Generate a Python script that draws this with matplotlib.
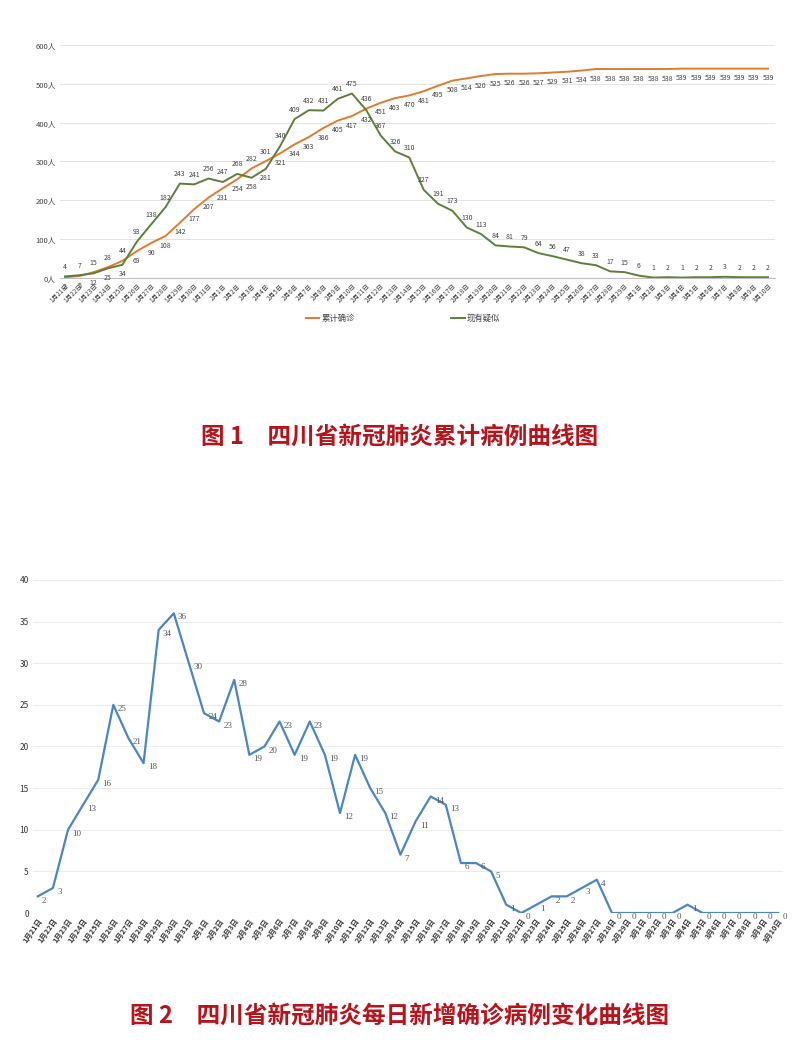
import matplotlib
matplotlib.use("Agg")
import matplotlib.pyplot as plt
import numpy as np

plt.rcParams['font.family'] = ['Noto Sans CJK SC', 'DejaVu Sans']

# dates 1月21日 .. 3月10日
dates = ([f"1月{d}日" for d in range(21, 32)] +
         [f"2月{d}日" for d in range(1, 30)] +
         [f"3月{d}日" for d in range(1, 11)])

# 累计确诊
cumulative = [2, 5, 15, 28, 44, 69, 90, 108, 142, 177, 207, 231, 254, 282, 301,
              321, 344, 363, 386, 405, 417, 436, 451, 463, 470, 481, 495, 508,
              514, 520, 525, 526, 526, 527, 529, 531, 534, 538, 538, 538, 538,
              538, 538, 539, 539, 539, 539, 539, 539, 539]

# 现有疑似
suspected = [4, 7, 12, 25, 34, 93, 138, 182, 243, 241, 256, 247, 268, 258, 281,
             340, 409, 432, 431, 461, 475, 432, 367, 326, 310, 227, 191, 173,
             130, 113, 84, 81, 79, 64, 56, 47, 38, 33, 17, 15, 6, 1, 2, 1, 2,
             2, 3, 2, 2, 2]

# 每日新增确诊
daily_new = [2, 3, 10, 13, 16, 25, 21, 18, 34, 36, 30, 24, 23, 28, 19, 20, 23,
             19, 23, 19, 12, 19, 15, 12, 7, 11, 14, 13, 6, 6, 5, 1, 0, 1, 2, 2,
             3, 4, 0, 0, 0, 0, 0, 1, 0, 0, 0, 0, 0, 0]

title1 = "图 1　四川省新冠肺炎累计病例曲线图"
title2 = "图 2　四川省新冠肺炎每日新增确诊病例变化曲线图"

ORANGE = "#E07B2E"
GREEN = "#5E7F3A"
BLUE = "#4A86C0"
GRID = "#E3E3E3"
TXT = "#404040"
RED = "#B8121B"

x = np.arange(len(dates))
fig = plt.figure(figsize=(8, 10.45), dpi=100)

# ---- figure 1: cumulative ----
ax1 = fig.add_axes([0.075, 0.734, 0.894, 0.223])
ax1.plot(x, cumulative, color=ORANGE, lw=1.4, label="累计确诊")
ax1.plot(x, suspected, color=GREEN, lw=1.4, label="现有疑似")
ax1.set_xlim(-0.35, 49.5)
ax1.set_ylim(0, 600)
ax1.set_yticks(range(0, 601, 100))
ax1.set_yticklabels([f"{v}人" for v in range(0, 601, 100)], fontsize=5.5, color=TXT)
ax1.set_xticks(x)
ax1.set_xticklabels(dates, rotation=45, ha="right", rotation_mode="anchor",
                    fontsize=4.7, color=TXT)
ax1.grid(axis="y", color=GRID, lw=0.7)
ax1.set_axisbelow(True)
for s in ("top", "right", "left"):
    ax1.spines[s].set_visible(False)
ax1.spines["bottom"].set_color("#BFBFBF")
ax1.tick_params(length=0, pad=3)

# labels: higher series above, lower below; after 2月12日 orange below, green above
for i, (c, s) in enumerate(zip(cumulative, suspected)):
    c_below = i >= 22 or c < s
    ax1.annotate(str(c), (i, c), xytext=(0, -4 if c_below else 4),
                 textcoords="offset points", ha="center",
                 va="top" if c_below else "bottom", fontsize=5, color=TXT)
    s_below = i < 22 and s < c
    ax1.annotate(str(s), (i, s), xytext=(0, -4 if s_below else 4),
                 textcoords="offset points", ha="center",
                 va="top" if s_below else "bottom", fontsize=5, color=TXT)

ax1.legend(loc="center", bbox_to_anchor=(0.48, -0.172), ncol=2,
           frameon=False, fontsize=6, columnspacing=11.5, handlelength=1.6,
           handletextpad=0.3, labelcolor=TXT)

fig.text(0.5, 1 - 437 / 1045, title1, ha="center", va="center",
         fontsize=17, fontweight="bold", color=RED)

# ---- figure 2: daily new ----
ax2 = fig.add_axes([0.041, 0.1263, 0.938, 0.3187])
ax2.plot(x, daily_new, color=BLUE, lw=1.6)
ax2.set_xlim(-0.33, 49.33)
ax2.set_ylim(0, 40)
ax2.set_yticks(range(0, 41, 5))
ax2.tick_params(axis="y", labelsize=6, labelcolor="#333333")
ax2.set_xticks(x)
ax2.set_xticklabels(dates, rotation=55, ha="right", rotation_mode="anchor",
                    fontsize=5.3, fontweight="bold", color="#333333")
ax2.grid(axis="y", color="#EDEDED", lw=0.8)
ax2.set_axisbelow(True)
for s in ("top", "right", "left", "bottom"):
    ax2.spines[s].set_visible(False)
ax2.tick_params(length=0, pad=3)

for i, v in enumerate(daily_new):
    ax2.annotate(str(v), (i, v), xytext=(3, -3), textcoords="offset points",
                 ha="left", va="center", fontsize=6.5, color="#555555",
                 family="Liberation Serif")

fig.text(0.5, 1 - 1016 / 1045, title2, ha="center", va="center",
         fontsize=17, fontweight="bold", color=RED)

fig.savefig("out.png", dpi=100, facecolor="white")
